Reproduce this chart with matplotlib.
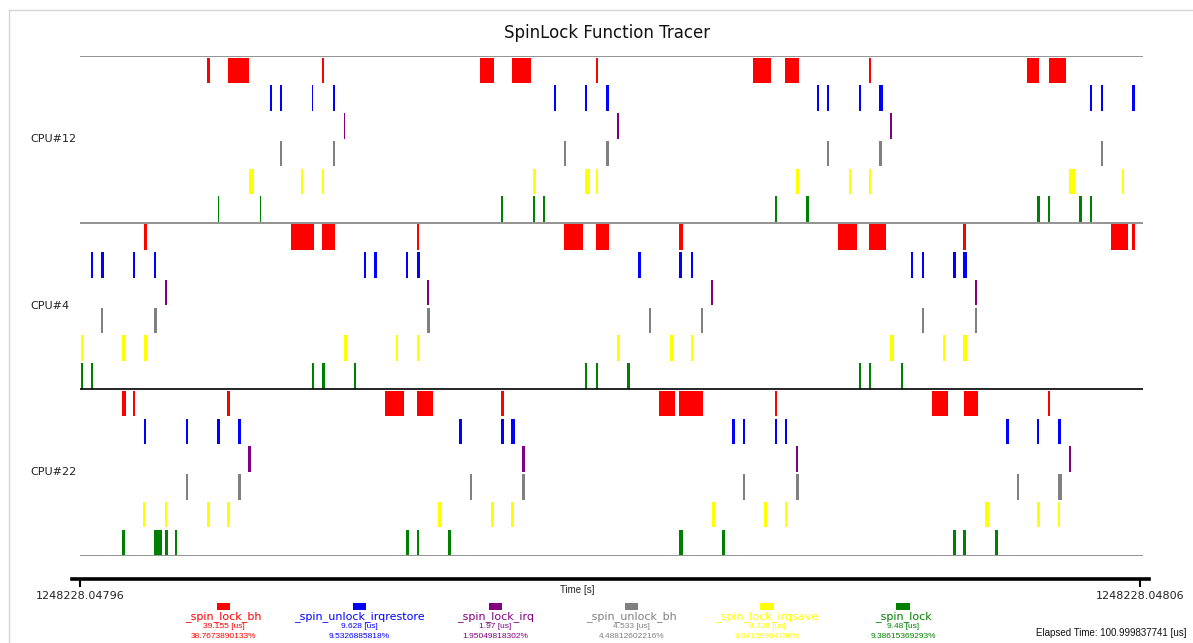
import matplotlib
matplotlib.use("Agg")
from matplotlib import pyplot as plt
from matplotlib import transforms
from matplotlib.patches import Rectangle
from matplotlib.lines import Line2D

# call intervals, microseconds after trace start: (begin, end)
cpu12_spin_lock_bh = [(12.07, 12.35), (14.03, 16.06), (23.02, 23.21), (38.00, 39.36),
                      (41.02, 42.82), (49.03, 49.19), (63.97, 65.59), (66.98, 68.34),
                      (74.99, 75.15), (90.00, 91.05), (92.00, 93.62)]
cpu12_spin_unlock_irqrestore = [(18.08, 18.21), (19.03, 19.16), (22.04, 22.17), (24.07, 24.20),
                                (45.01, 45.23), (48.01, 48.17), (50.01, 50.23), (70.00, 70.19),
                                (70.94, 71.19), (73.99, 74.23), (75.94, 76.27), (95.96, 96.15),
                                (96.98, 97.17), (99.92, 100.17)]
cpu12_spin_lock_irq = [(25.08, 25.21), (51.02, 51.21), (76.96, 77.15)]
cpu12_spin_unlock_bh = [(19.03, 19.16), (24.07, 24.26), (46.01, 46.18), (50.01, 50.23),
                        (70.94, 71.16), (75.94, 76.20), (96.98, 97.17)]
cpu12_spin_lock_irqsave = [(16.06, 16.50), (21.03, 21.22), (23.02, 23.21), (43.01, 43.33),
                           (48.01, 48.43), (49.03, 49.19), (68.03, 68.28), (73.00, 73.19),
                           (74.96, 75.15), (93.97, 94.47), (98.97, 99.16)]
cpu12_spin_lock = [(13.11, 13.24), (17.07, 17.20), (40.00, 40.22), (43.01, 43.20),
                   (44.02, 44.21), (66.03, 66.19), (68.98, 69.20), (90.93, 91.18),
                   (91.94, 92.16), (94.92, 95.17), (95.93, 96.15)]

cpu4_spin_lock_bh = [(6.08, 6.37), (20.05, 22.23), (22.96, 24.23), (31.99, 32.21),
                     (46.01, 47.76), (49.03, 50.26), (56.94, 57.23), (71.99, 73.85),
                     (74.99, 76.55), (83.92, 84.15), (97.93, 99.51), (99.92, 100.17)]
cpu4_spin_unlock_irqrestore = [(1.07, 1.26), (2.02, 2.28), (5.04, 5.23), (7.03, 7.22),
                               (27.01, 27.20), (27.96, 28.22), (30.97, 31.19), (31.99, 32.28),
                               (53.02, 53.27), (56.94, 57.20), (57.99, 58.27), (78.95, 79.14),
                               (80.00, 80.19), (82.92, 83.20), (83.92, 84.21)]
cpu4_spin_lock_irq = [(8.08, 8.27), (32.94, 33.19), (59.98, 60.17), (84.97, 85.19)]
cpu4_spin_unlock_bh = [(2.02, 2.21), (7.03, 7.29), (33.00, 33.25), (54.03, 54.22),
                       (58.94, 59.19), (80.00, 80.19), (84.97, 85.19)]
cpu4_spin_lock_irqsave = [(0.07, 0.26), (4.02, 4.28), (6.05, 6.37), (25.05, 25.34),
                          (30.02, 30.24), (32.02, 32.24), (51.02, 51.28), (56.03, 56.28),
                          (57.99, 58.18), (76.96, 77.31), (81.97, 82.19), (83.92, 84.21)]
cpu4_spin_lock = [(0.07, 0.26), (1.07, 1.26), (22.04, 22.23), (22.99, 23.28),
                  (26.00, 26.19), (47.98, 48.17), (49.03, 49.22), (51.97, 52.23),
                  (73.95, 74.23), (74.94, 75.15), (77.98, 78.17)]

cpu22_spin_lock_bh = [(3.99, 4.37), (5.01, 5.23), (13.94, 14.28), (29.01, 30.76),
                      (32.02, 33.51), (39.97, 40.26), (54.98, 56.47), (56.94, 59.22),
                      (66.00, 66.22), (80.95, 82.44), (83.96, 85.34), (91.94, 92.16)]
cpu22_spin_unlock_irqrestore = [(6.05, 6.27), (10.04, 10.23), (13.05, 13.27), (15.04, 15.26),
                                (36.01, 36.26), (39.97, 40.26), (40.98, 41.30), (61.95, 62.20),
                                (62.96, 63.21), (66.00, 66.22), (66.95, 67.20), (87.92, 88.20),
                                (90.90, 91.12), (92.92, 93.18)]
cpu22_spin_lock_irq = [(15.99, 16.28), (42.02, 42.28), (68.00, 68.22), (93.94, 94.16)]
cpu22_spin_unlock_bh = [(10.04, 10.26), (15.04, 15.26), (37.03, 37.24), (42.02, 42.28),
                        (62.96, 63.21), (68.00, 68.31), (88.96, 89.15), (92.92, 93.30)]
cpu22_spin_lock_irqsave = [(6.01, 6.20), (8.05, 8.27), (12.04, 12.38), (14.00, 14.22),
                           (33.99, 34.30), (39.02, 39.30), (40.98, 41.20), (60.02, 60.36),
                           (64.99, 65.27), (66.95, 67.17), (85.96, 86.30), (90.93, 91.21),
                           (92.89, 93.11)]
cpu22_spin_lock = [(3.99, 4.28), (7.00, 7.79), (8.05, 8.33), (9.00, 9.19),
                   (30.97, 31.26), (31.99, 32.21), (34.94, 35.22), (56.94, 57.26),
                   (61.00, 61.22), (82.95, 83.23), (83.92, 84.18), (86.96, 87.19)]

cpus = ["CPU#12", "CPU#4", "CPU#22"]
functions = ["_spin_lock_bh", "_spin_unlock_irqrestore", "_spin_lock_irq",
             "_spin_unlock_bh", "_spin_lock_irqsave", "_spin_lock"]
colors = ["#ff0000", "#0000ff", "#800080", "#808080", "#ffff00", "#008000"]
total_us = [39.155, 9.628, 1.97, 4.533, 9.738, 9.48]
share_pct = ["38.7673890133", "9.5326885818", "1.95049818302",
             "4.48812602216", "9.64159964786", "9.38615369293"]

trace_start_s = 1248228.04796
elapsed_us = 100.999837741
time_ticks_us = [0.0, 100.7]

events = {
    "CPU#12": [cpu12_spin_lock_bh, cpu12_spin_unlock_irqrestore, cpu12_spin_lock_irq,
               cpu12_spin_unlock_bh, cpu12_spin_lock_irqsave, cpu12_spin_lock],
    "CPU#4": [cpu4_spin_lock_bh, cpu4_spin_unlock_irqrestore, cpu4_spin_lock_irq,
              cpu4_spin_unlock_bh, cpu4_spin_lock_irqsave, cpu4_spin_lock],
    "CPU#22": [cpu22_spin_lock_bh, cpu22_spin_unlock_irqrestore, cpu22_spin_lock_irq,
               cpu22_spin_unlock_bh, cpu22_spin_lock_irqsave, cpu22_spin_lock],
}

W, H = 1193, 643


def fx(px):
    return px / W


def fy(py):
    return 1 - py / H


fig = plt.figure(figsize=(W / 100, H / 100), dpi=100)
fig.patch.set_facecolor("white")

# thin frame on the left and top
fig.add_artist(Line2D([fx(9), fx(9)], [0, fy(10)], transform=fig.transFigure,
                      color="#d6d6d6", lw=1))
fig.add_artist(Line2D([fx(9), 1], [fy(10), fy(10)], transform=fig.transFigure,
                      color="#d6d6d6", lw=1))

fig.text(fx(607), fy(33), "SpinLock Function Tracer", ha="center", va="center",
         fontsize=12, color="#111111")

# one lane per function, six lanes per cpu
plot_left, plot_right, plot_top, plot_bottom = 80, 1143.3, 56, 555.7
ax = fig.add_axes([fx(plot_left), fy(plot_bottom),
                   fx(plot_right) - fx(plot_left), fy(plot_top) - fy(plot_bottom)])
ax.set_xlim(0, elapsed_us)
n_lanes = len(functions)
ax.set_ylim(n_lanes * len(cpus), 0)
ax.axis("off")

label_trans = transforms.blended_transform_factory(fig.transFigure, ax.transData)
for c, cpu in enumerate(cpus):
    for f, calls in enumerate(events[cpu]):
        ax.broken_barh([(b, e - b) for b, e in calls],
                       (c * n_lanes + f + 0.06, 0.92),
                       facecolors=colors[f], linewidth=0)
    ax.text(fx(30), c * n_lanes + n_lanes / 2, cpu, transform=label_trans,
            ha="left", va="center", fontsize=8, color="#222222")

border_colors = ["#808080", "#808080", "#000000", "#808080"]
for c, col in enumerate(border_colors):
    ax.axhline(c * n_lanes, color=col, lw=1.2)

# time axis below the lanes
px_per_us = (plot_right - plot_left) / elapsed_us
axis_left, axis_right = 71.7, 1148.7
tax = fig.add_axes([fx(axis_left), fy(579), fx(axis_right) - fx(axis_left), 0.0001])
tax.set_xlim(-(plot_left - axis_left) / px_per_us,
             elapsed_us + (axis_right - plot_right) / px_per_us)
tax.patch.set_visible(False)
for side in ["top", "left", "right"]:
    tax.spines[side].set_visible(False)
tax.spines["bottom"].set_linewidth(2.6)
tax.spines["bottom"].set_color("black")
tax.set_yticks([])
tax.set_xticks(time_ticks_us)
tax.set_xticklabels(["%.5f" % (trace_start_s + t * 1e-6) for t in time_ticks_us])
tax.tick_params(axis="x", direction="out", length=5.5, width=1.5, pad=3,
                labelsize=8, labelcolor="#222222")

fig.text(fx(577), fy(590), "Time [s]", ha="center", va="center", fontsize=7,
         family="Liberation Sans", color="#222222")

# legend: swatch, name, total time and share of elapsed time
for i, name in enumerate(functions):
    cx = 223.5 + 135.9 * i
    fig.patches.append(Rectangle((fx(cx - 6.7), fy(609.5)), 13.4 / W, 7 / H,
                                 transform=fig.transFigure, facecolor=colors[i], lw=0))
    fig.text(fx(cx), fy(616.5), name, ha="center", va="center", fontsize=8,
             color=colors[i])
    fig.text(fx(cx), fy(626), "%g [us]" % total_us[i], ha="center", va="center",
             fontsize=6, family="Liberation Sans", color=colors[i])
    fig.text(fx(cx), fy(636.3), share_pct[i] + "%", ha="center", va="center",
             fontsize=6, family="Liberation Sans", color=colors[i])

fig.text(fx(1187), fy(633), "Elapsed Time: %.12g [us]" % elapsed_us, ha="right",
         va="center", fontsize=7, family="Liberation Sans", color="#111111")

fig.savefig("out.png", dpi=100)
